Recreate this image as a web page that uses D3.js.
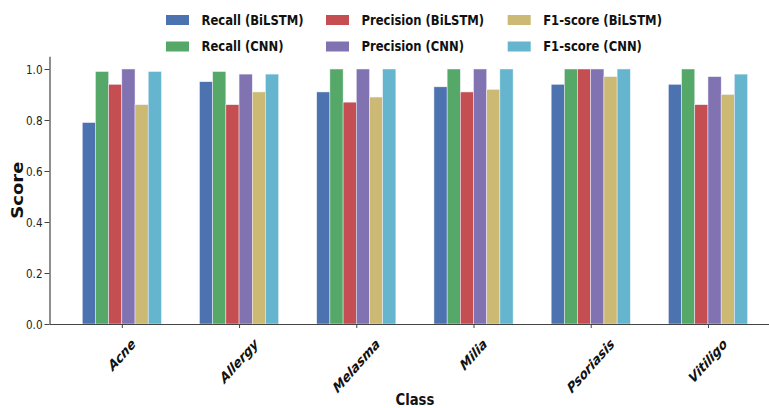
<!DOCTYPE html>
<html>
<head>
<meta charset="utf-8">
<script src="https://cdn.jsdelivr.net/npm/d3@7/dist/d3.min.js"></script>
<style>
  html, body { margin: 0; padding: 0; background: #fff; }
  svg { display: block; font-family: "DejaVu Sans", sans-serif; }
</style>
</head>
<body>
<svg id="chart" width="769" height="408"></svg>
<script>
// Per-class scores for the BiLSTM and CNN skin-condition classifiers
const classes = ["Acne", "Allergy", "Melasma", "Milia", "Psoriasis", "Vitiligo"];
const recallBiLSTM    = [0.79, 0.95, 0.91, 0.93, 0.94, 0.94];
const recallCNN       = [0.99, 0.99, 1.00, 1.00, 1.00, 1.00];
const precisionBiLSTM = [0.94, 0.86, 0.87, 0.91, 1.00, 0.86];
const precisionCNN    = [1.00, 0.98, 1.00, 1.00, 1.00, 0.97];
const f1BiLSTM        = [0.86, 0.91, 0.89, 0.92, 0.97, 0.90];
const f1CNN           = [0.99, 0.98, 1.00, 1.00, 1.00, 0.98];
const yTicks = [0.0, 0.2, 0.4, 0.6, 0.8, 1.0];

const seriesNames = ["Recall (BiLSTM)", "Recall (CNN)", "Precision (BiLSTM)",
                     "Precision (CNN)", "F1-score (BiLSTM)", "F1-score (CNN)"];
const seriesValues = [recallBiLSTM, recallCNN, precisionBiLSTM, precisionCNN, f1BiLSTM, f1CNN];
const seriesColors = ["#4C72B0", "#55A868", "#C44E52", "#8172B2", "#CCB974", "#64B5CD"];

const svg = d3.select("#chart");
const SX = 0.8;            // horizontal squeeze of all lettering
const BAR_W = 0.1125;      // bar width in category units
const LABEL_ROT = 42;      // rotation of the class labels, degrees

const x = d3.scaleLinear().domain([-0.617, 5.617]).range([49.5, 780.3]);
const y = d3.scaleLinear().domain([0, 1.05]).range([324, 56.25]);

function squeezedText(g, px, py) {
  return g.append("text").attr("transform", `translate(${px},${py}) scale(${SX},1)`);
}

// Bars
const bars = svg.append("g");
seriesValues.forEach((vals, s) => {
  bars.selectAll(null).data(vals).enter().append("rect")
    .attr("x", (d, i) => x(i + (s - 3) * BAR_W))
    .attr("width", x(BAR_W) - x(0))
    .attr("y", d => y(d))
    .attr("height", d => y(0) - y(d))
    .attr("fill", seriesColors[s])
    .attr("stroke", "#f2f2fa")
    .attr("stroke-width", 0.5);
});

// Axes
const axisColor = "#444";
const yAxis = svg.append("g").attr("transform", `translate(${x.range()[0]},0)`)
  .call(d3.axisLeft(y).tickValues(yTicks).tickFormat(d3.format(".1f")).tickSize(5).tickSizeOuter(0));
const xAxis = svg.append("g").attr("transform", `translate(0,${y(0)})`)
  .call(d3.axisBottom(x).tickValues(d3.range(classes.length)).tickFormat("").tickSize(4).tickSizeOuter(0));

[yAxis, xAxis].forEach(a => {
  a.select(".domain").attr("stroke", axisColor).attr("stroke-width", 1.2);
  a.selectAll(".tick line").attr("stroke", axisColor).attr("stroke-width", 1);
});

// y tick labels, squeezed
yAxis.selectAll(".tick text").each(function () {
  d3.select(this)
    .attr("x", null).attr("dy", null)
    .attr("transform", `translate(-7,0) scale(${SX},1)`)
    .attr("dominant-baseline", "central")
    .attr("font-size", 13).attr("fill", "#222")
    .attr("font-family", "DejaVu Sans");
});

// x tick labels, rotated and squeezed, centred on their ticks
const xl = svg.append("g");
const rad = LABEL_ROT * Math.PI / 180;
classes.forEach((c, i) => {
  const t = xl.append("text")
    .text(c)
    .attr("font-size", 14.5).attr("font-weight", "bold").attr("font-style", "italic")
    .attr("text-anchor", "middle").attr("dominant-baseline", "central")
    .attr("fill", "#111");
  const w = t.node().getComputedTextLength();
  const halfH = (w * Math.sin(rad) + 12 * Math.cos(rad)) / 2;
  t.attr("transform", `translate(${x(i)},${337 + halfH}) scale(${SX},1) rotate(${-LABEL_ROT})`);
});

// Axis titles
squeezedText(svg, (x.range()[0] + x.range()[1]) / 2, 405)
  .text("Class").attr("font-size", 16.5).attr("font-weight", "bold")
  .attr("text-anchor", "middle").attr("fill", "#111");

svg.append("text")
  .attr("transform", `translate(17.5,${(y(0) + y(1.05)) / 2}) rotate(-90)`)
  .text("Score").attr("font-size", 15).attr("font-weight", "bold")
  .attr("text-anchor", "middle").attr("dominant-baseline", "central").attr("fill", "#111")
  .attr("textLength", 57).attr("lengthAdjust", "spacingAndGlyphs");

// Legend: three columns, two rows
const legendCols = [166, 326, 507.7];
const legendRows = [20, 46.5];
const legend = svg.append("g");
seriesNames.forEach((name, s) => {
  const col = Math.floor(s / 2), row = s % 2;
  const lx = legendCols[col], ly = legendRows[row];
  legend.append("rect")
    .attr("x", lx).attr("y", ly - 5).attr("width", 23).attr("height", 10)
    .attr("fill", seriesColors[s]);
  squeezedText(legend, lx + 35.5, ly)
    .text(name).attr("font-size", 14.5).attr("font-weight", "bold")
    .attr("dominant-baseline", "central").attr("fill", "#111");
});
</script>
</body>
</html>
